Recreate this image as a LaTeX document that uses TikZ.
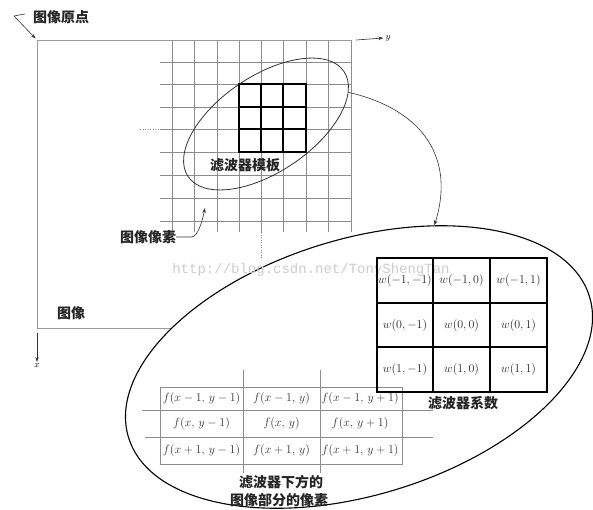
\documentclass[tikz,border=0pt]{standalone}
\usepackage{fontspec}
\newfontfamily\cjk{Noto Sans CJK SC}
\newfontfamily\wmfont{Liberation Mono}
\usetikzlibrary{shapes.geometric,arrows.meta}
\begin{document}
\begin{tikzpicture}[x=1pt,y=1pt,
  lbl/.style={font=\cjk\bfseries\fontsize{14}{16}\selectfont, inner sep=0pt, text=black!85},
  gridl/.style={draw=black!45, line width=0.5pt},
  framel/.style={draw=black!40, line width=0.5pt},
  tmplgrid/.style={draw=black, line width=1.6pt},
  ell/.style={draw=black!80, ellipse, inner sep=0pt, line width=0.8pt},
  bigell/.style={draw=black, fill=white, ellipse, inner sep=0pt, line width=1.1pt},
  wcell/.style={font=\fontsize{12}{14}\selectfont, text=black!85, inner sep=0pt},
  fcell/.style={font=\fontsize{11.5}{13}\selectfont, text=black!80, inner sep=0pt},
  ftab/.style={draw=black!45, line width=0.5pt},
  wtab/.style={draw=black, line width=1.6pt},
  tip/.style={-{Stealth[length=5pt,width=3.5pt]}, line width=0.6pt, draw=black!80}
]
\useasboundingbox (0,0) rectangle (593,-509);

% image frame
\coordinate (c0) at (37,-40);
\coordinate (ctr) at (351,-40);
\coordinate (cbl) at (37,-328);
\coordinate (cbr) at (300,-328);
\draw[framel] (ctr) -- (c0) -- (cbl) -- (cbr);

% pixel grid
\foreach \x in {172,194,217,239,261,283,306,328,351} \draw[gridl] (\x,-40) -- (\x,-232);
\foreach \y in {62,84,107,129,152,175,198,221} \draw[gridl] (160,-\y) -- (351,-\y);
\draw[gridl, dotted] (140,-129) -- (160,-129);
\draw[gridl, dotted] (261,-232) -- (261,-258);

% 3x3 template
\draw[tmplgrid] (239,-84) rectangle (306,-152);
\draw[tmplgrid] (261,-84) -- (261,-152) (283,-84) -- (283,-152)
                (239,-107) -- (306,-107) (239,-129) -- (306,-129);

% small ellipse
\node[ell, minimum width=188pt, minimum height=96pt, rotate=34] (sel) at (266,-124) {};
\node[lbl] (tmpl) at (245,-165) {滤波器模板};

% big ellipse
\node[bigell, minimum width=482pt, minimum height=256pt, rotate=17] (bel) at (359,-367) {};

% connector
\draw[tip] (sel.-13) .. controls (425,-110) and (455,-160) .. (bel.45);

% axes
\coordinate (ys) at (356,-40);
\node[inner sep=2pt, font=\fontsize{9}{9}\selectfont] (ylab) at (388,-38) {$y$};
\draw[tip] (ys) -- (ylab.west);
\coordinate (xs) at (37,-333);
\node[inner sep=2pt, font=\fontsize{9}{9}\selectfont] (xlab) at (37,-366) {$x$};
\draw[tip] (xs) -- (xlab.north);

% labels
\node[lbl] (origin) at (61,-17) {图像原点};
\coordinate (o1) at (25,-14);
\coordinate (o2) at (14,-16);
\draw[tip, shorten >=2pt] (o1) -- (o2) -- (c0);

\node[lbl] (pix) at (148,-237) {图像像素};
\coordinate (p1) at (191,-237);
\coordinate (p2) at (205,-208);
\draw[tip] (pix.east) -- (p1) .. controls (198,-237) and (202,-222) .. (p2);

\node[lbl] (img) at (71,-313) {图像};

% watermark
\node[text=black!20, font=\wmfont\fontsize{14}{14}\selectfont, inner sep=0pt] (wm) at (311,-270) {http://blog.csdn.net/TonyShengTan};

% image pixels under the filter
\draw[ftab] (160,-387) rectangle (402,-464);
\draw[ftab] (243,-370) -- (243,-473) (320,-370) -- (320,-473)
            (142,-410) -- (433,-410) (145,-437) -- (433,-437);
\node[fcell] (f11) at (201.5,-398.5) {$f(x-1,\,y-1)$};
\node[fcell] (f12) at (281.5,-398.5) {$f(x-1,\,y)$};
\node[fcell] (f13) at (360,-398.5) {$f(x-1,\,y+1)$};
\node[fcell] (f21) at (201.5,-423.5) {$f(x,\,y-1)$};
\node[fcell] (f22) at (281.5,-423.5) {$f(x,\,y)$};
\node[fcell] (f23) at (360,-423.5) {$f(x,\,y+1)$};
\node[fcell] (f31) at (201.5,-450.5) {$f(x+1,\,y-1)$};
\node[fcell] (f32) at (281.5,-450.5) {$f(x+1,\,y)$};
\node[fcell] (f33) at (360,-450.5) {$f(x+1,\,y+1)$};
\node[lbl] (under1) at (281,-482) {滤波器下方的};
\node[lbl] (under2) at (279,-500) {图像部分的像素};

% filter coefficients
\draw[wtab] (377,-258) rectangle (547,-392);
\draw[wtab] (433,-258) -- (433,-392) (490,-258) -- (490,-392)
            (377,-303) -- (547,-303) (377,-347) -- (547,-347);
\node[wcell] (w11) at (405,-280.5) {$w(-1,-1)$};
\node[wcell] (w12) at (461.5,-280.5) {$w(-1,0)$};
\node[wcell] (w13) at (518.5,-280.5) {$w(-1,1)$};
\node[wcell] (w21) at (405,-325) {$w(0,-1)$};
\node[wcell] (w22) at (461.5,-325) {$w(0,0)$};
\node[wcell] (w23) at (518.5,-325) {$w(0,1)$};
\node[wcell] (w31) at (405,-369.5) {$w(1,-1)$};
\node[wcell] (w32) at (461.5,-369.5) {$w(1,0)$};
\node[wcell] (w33) at (518.5,-369.5) {$w(1,1)$};
\node[lbl] (coef) at (463,-403) {滤波器系数};
\end{tikzpicture}
\end{document}
